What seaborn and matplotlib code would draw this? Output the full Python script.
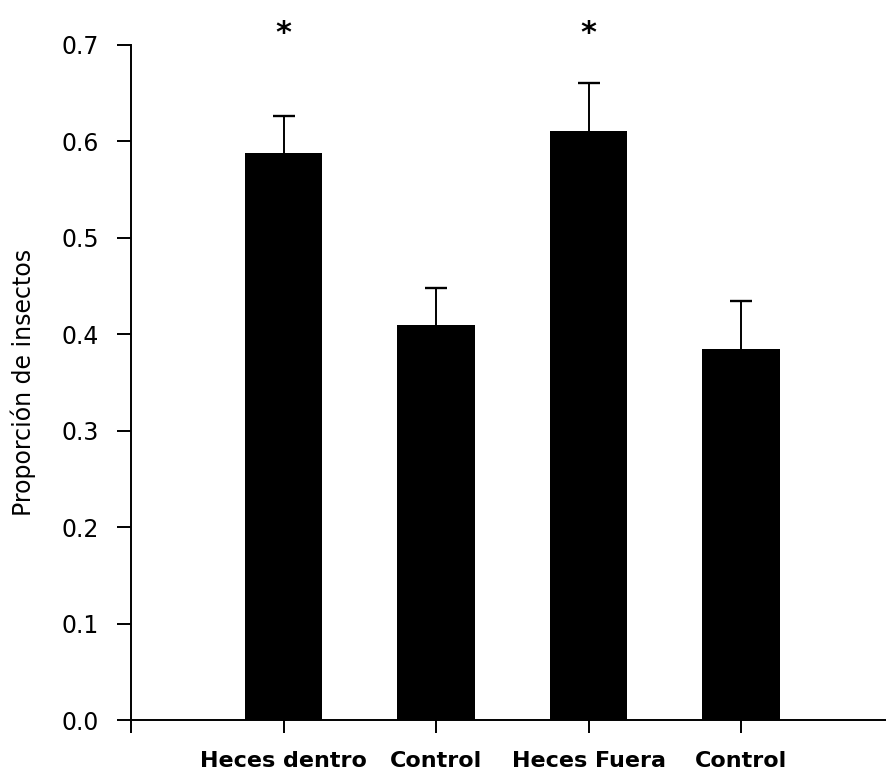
import matplotlib
matplotlib.use("Agg")
import matplotlib.pyplot as plt
import seaborn as sns
import pandas as pd

# Proportion of insects choosing each arm (mean and standard error)
categories = ["Heces dentro", "Control", "Heces Fuera", "Control "]
proportions = [0.588, 0.410, 0.611, 0.385]
std_errors = [0.038, 0.038, 0.050, 0.050]
significant = [True, False, True, False]

sns.set_theme(style="ticks")
plt.rcParams["font.family"] = ["DejaVu Sans"]

df = pd.DataFrame({"grupo": categories, "proporcion": proportions})

fig = plt.figure(figsize=(8.86, 7.73), dpi=100)
ax = fig.add_axes([131 / 886, 1 - 720 / 773, 1 - 131 / 886, (720 - 45) / 773])

sns.barplot(data=df, x="grupo", y="proporcion", order=categories,
            color="black", saturation=1, width=0.51, errorbar=None,
            edgecolor="none", ax=ax)

# one-sided (upper) error bars
xs = list(range(len(categories)))
_, caps, _ = ax.errorbar(xs, proportions,
                         yerr=[[0] * len(std_errors), std_errors],
                         fmt="none", ecolor="black", elinewidth=1.4,
                         capsize=8, capthick=1.7, zorder=3)
caps[0].set_visible(False)  # no cap on the lower (zero-length) side

# significance marks
for x, sig in zip(xs, significant):
    if sig:
        ax.text(x, 0.703, "*", ha="center", va="baseline", fontsize=22,
                fontweight="bold", color="black", clip_on=False)

ax.set_ylim(0, 0.7)
ax.set_xlim(-1, 3.95)
ax.set_yticks([0.0, 0.1, 0.2, 0.3, 0.4, 0.5, 0.6, 0.7])
ax.set_yticklabels([f"{v:.1f}" for v in ax.get_yticks()])
ax.set_xticks([-1] + xs)
ax.set_xticklabels([""] + [c.strip() for c in categories],
                   fontweight="bold")

ax.set_xlabel("")
ax.set_ylabel("Proporción de insectos", fontsize=17, color="black")
ax.yaxis.set_label_coords(-0.126, 0.5)

for side in ("top", "right"):
    ax.spines[side].set_visible(False)
for side in ("left", "bottom"):
    ax.spines[side].set_linewidth(1.4)
    ax.spines[side].set_color("black")

ax.tick_params(axis="y", direction="out", length=10, width=1.4,
               pad=13, labelsize=17, colors="black")
ax.tick_params(axis="x", direction="out", length=9, width=1.4,
               pad=13, labelsize=16, colors="black")

fig.savefig("out.png", dpi=100, facecolor="white")
